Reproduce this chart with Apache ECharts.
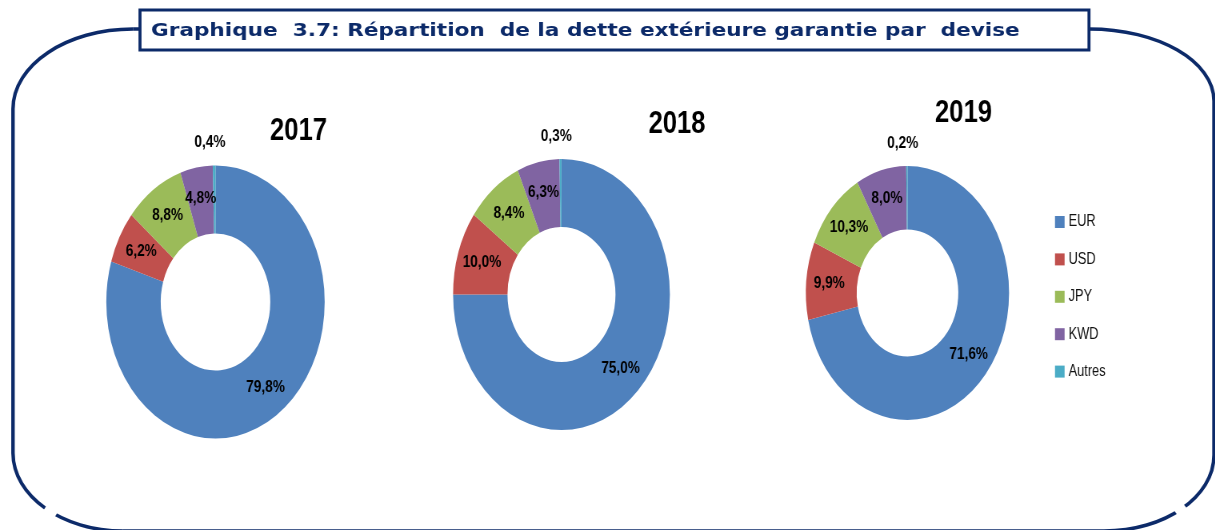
<!DOCTYPE html>
<html>
<head>
<meta charset="utf-8">
<script src="https://cdn.jsdelivr.net/npm/echarts@6/dist/echarts.min.js"></script>
<style>
  html, body { margin: 0; padding: 0; background: #fff; overflow: hidden; }
  #chart { width: 1520px; height: 530px; transform: scaleX(0.8); transform-origin: 0 0; }
</style>
</head>
<body>
<div id="chart"></div>
<script>
// ---- data ----
const categories = ['EUR', 'USD', 'JPY', 'KWD', 'Autres'];
const years = ['2017', '2018', '2019'];
const values2017 = [79.8, 6.2, 8.8, 4.8, 0.4];
const values2018 = [75.0, 10.0, 8.4, 6.3, 0.3];
const values2019 = [71.6, 9.9, 10.3, 8.0, 0.2];
const chartTitle = 'Graphique  3.7: Répartition  de la dette extérieure garantie par  devise';

// ---- styling / layout ----
const SX = 0.8; // horizontal squeeze applied to the container
const colors = ['#4F81BD', '#C0504D', '#9BBB59', '#8064A2', '#4BACC6'];
const navy = '#0c2a69';
const pieLayout = [
  { cx: 215.5, cy: 302, r0: 68.5, r1: 136.5, tx: 298.5, ty: 131 },
  { cx: 561.5, cy: 294.5, r0: 67.5, r1: 135.5, tx: 677, ty: 124 },
  { cx: 907.5, cy: 293, r0: 63.5, r1: 127, tx: 963.5, ty: 113.5 }
];
const allValues = [values2017, values2018, values2019];

const fmt = v => v.toFixed(1).replace('.', ',') + '%';

const series = allValues.map((vals, i) => {
  const L = pieLayout[i];
  return {
    type: 'pie',
    name: years[i],
    center: [L.cx / SX, L.cy],
    radius: [L.r0, L.r1],
    startAngle: 90,
    clockwise: true,
    avoidLabelOverlap: false,
    silent: true,
    data: categories.map((c, k) => {
      const d = { name: c, value: vals[k] };
      if (k === categories.length - 1) {
        d.label = { position: 'outside' };
      }
      return d;
    }),
    label: {
      show: true,
      position: 'inside',
      formatter: p => fmt(p.value),
      color: '#000',
      fontFamily: 'Liberation Sans, Arial, sans-serif',
      fontWeight: 'bold',
      fontSize: 17,
      textBorderWidth: 0
    },
    labelLine: { show: false, length: 23, length2: 0 },
    labelLayout: function (params) {
      if (params.dataIndex === categories.length - 1) return { align: 'center' };
      return {};
    },
    emphasis: { disabled: true }
  };
});

const yearTexts = years.map((y, i) => ({
  type: 'text',
  x: pieLayout[i].tx / SX,
  y: pieLayout[i].ty,
  style: {
    text: y,
    textAlign: 'center',
    textVerticalAlign: 'middle',
    fontFamily: 'Liberation Sans, Arial, sans-serif',
    fontWeight: 'bold',
    fontSize: 32,
    fill: '#000'
  }
}));

const K = 0.5523;
function qArc(x1, y1, x2, y2, cp1, cp2) {
  return { type: 'bezierCurve', shape: { x1, y1, x2, y2, cpx1: cp1[0], cpy1: cp1[1], cpx2: cp2[0], cpy2: cp2[1] },
           style: { fill: 'none', stroke: navy, lineWidth: 3.5 } };
}
function seg(x1, y1, x2, y2) {
  return { type: 'line', shape: { x1, y1, x2, y2 }, style: { stroke: navy, lineWidth: 3.5 } };
}
const frame = [
  seg(133, 29, 1089, 29),
  qArc(1089, 29, 1214, 101, [1089 + K * 125, 29], [1214, 101 - K * 72]),
  seg(1214, 101, 1214, 455),
  qArc(1214, 455, 1104, 531, [1214, 455 + K * 76], [1104 + K * 110, 531]),
  seg(1104, 531, 123, 531),
  qArc(123, 531, 13, 453, [123 - K * 110, 531], [13, 453 + K * 78]),
  seg(13, 453, 13, 109),
  qArc(13, 109, 133, 29, [13, 109 - K * 80], [133 - K * 120, 29])
];

const option = {
  animation: false,
  color: colors,
  legend: {
    data: categories,
    orient: 'vertical',
    left: 1051 / SX,
    top: 209,
    icon: 'rect',
    itemWidth: 12,
    itemHeight: 12,
    itemGap: 21.4,
    selectedMode: false,
    textStyle: {
      fontFamily: 'Liberation Sans, Arial, sans-serif',
      fontSize: 16,
      color: '#111'
    }
  },
  series: series,
  graphic: [
    {
      type: 'group',
      x: 0, y: 0,
      scaleX: 1 / SX,
      silent: true,
      children: frame.concat([
        { type: 'line', shape: { x1: 45, y1: 508, x2: 56, y2: 515 }, style: { stroke: '#fff', lineWidth: 7 } },
        { type: 'line', shape: { x1: 1185, y1: 506, x2: 1176, y2: 513 }, style: { stroke: '#fff', lineWidth: 7 } },
        { type: 'rect', shape: { x: 140, y: 10, width: 949, height: 40 }, style: { fill: '#fff', stroke: navy, lineWidth: 3 } },
        {
          type: 'text', x: 151, y: 31, scaleX: 1.2,
          style: {
            text: chartTitle,
            textAlign: 'left',
            textVerticalAlign: 'middle',
            fontFamily: 'DejaVu Sans, sans-serif',
            fontWeight: 'bold',
            fontSize: 18,
            fill: navy
          }
        }
      ])
    }
  ].concat(yearTexts)
};

const chart = echarts.init(document.getElementById('chart'), null, { renderer: 'canvas' });
chart.setOption(option);
</script>
</body>
</html>
